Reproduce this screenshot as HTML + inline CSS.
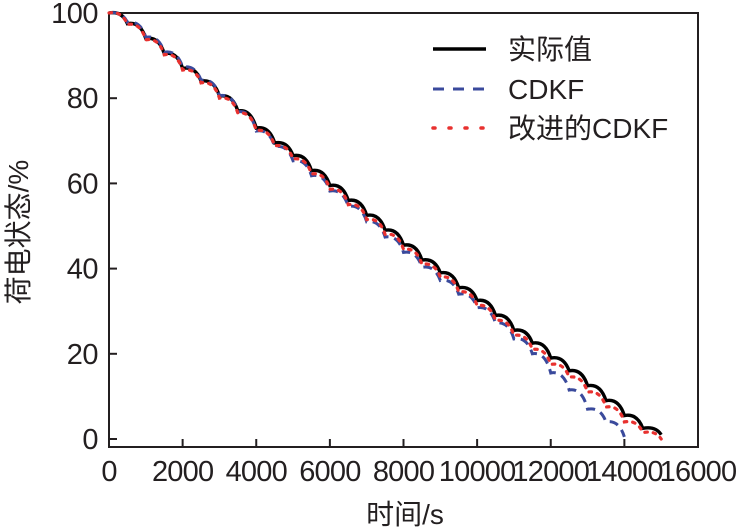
<!DOCTYPE html>
<html><head><meta charset="utf-8"><style>
html,body{margin:0;padding:0;background:#fff;}
svg{display:block;}
text{font-family:"Liberation Sans","Noto Sans CJK SC",sans-serif;fill:#231f20;}
</style></head><body>
<svg id="chart" width="736" height="531" viewBox="0 0 736 531"></svg>
<script>
const times = [0,500,1000,1500,2000,2500,3000,3500,4000,4500,5000,5500,6000,6500,7000,7500,8000,8500,9000,9500,10000,10500,11000,11500,12000,12500,13000,13500,14000,14500,15000];
const actualSoc = [100,97.5,94,90.5,87,84,80.5,77,73,69.5,66.5,63,59.5,56,52.5,49,45.5,42,39,35.5,32.5,29,25.5,22.5,19,16,12.5,9,5.5,2.5,1];
const cdkfSoc = [100,97.8,94.3,90.8,87.3,84.2,80.6,76.8,72.3,68.6,65.3,61.8,58.2,54.6,51,47.4,43.8,40.3,37.2,34,30.8,27.2,23.5,20,15.5,11.5,7,4,0.5,null,null];
const improvedSoc = [100,97.3,93.7,90.2,86.6,83.6,80,76.5,72.4,68.8,65.7,62.2,58.6,55,51.5,48,44.5,41,38,34.5,31.3,27.8,24.3,21,17.5,14.5,11,7.5,4,1.5,0];
const xTicks = [0,2000,4000,6000,8000,10000,12000,14000,16000];
const yTicks = [0,20,40,60,80,100];

const svg = document.getElementById('chart');
const NS = 'http://www.w3.org/2000/svg';
const X0=109,X1=698,Y0=439,Y100=13,YB=447,YT=13;
const xs = t => X0 + (t/16000)*(X1-X0);
const ys = v => Y0 - (v/100)*(Y0-Y100);
function mk(tag, attrs){const e=document.createElementNS(NS,tag);for(const k in attrs)e.setAttribute(k,attrs[k]);svg.appendChild(e);return e;}

const frame = mk('rect',{x:X0,y:YT,width:X1-X0,height:YB-YT,fill:'none',stroke:'#231f20','stroke-width':2});



xTicks.forEach(t=>{
  const l=mk('line',{x1:xs(t),x2:xs(t),y1:YB,y2:YB-8,stroke:'#231f20','stroke-width':2});
  
  
  const tx=mk('text',{x:xs(t),y:481,'font-size':29,'text-anchor':'middle','letter-spacing':'-0.8'});
  tx.textContent=t;
  
  
});
yTicks.forEach(v=>{
  const l=mk('line',{x1:X0,x2:X0+8,y1:ys(v),y2:ys(v),stroke:'#231f20','stroke-width':2});
  
  
  const tx=mk('text',{x:98,y:ys(v)+10,'font-size':29,'text-anchor':'end','letter-spacing':'-0.5'});
  tx.textContent=v;
  
  
});

function scallopPath(vals){
  let d='';
  for(let i=0;i<vals.length;i++){
    if(vals[i]===null)break;
    const x=xs(times[i]),y=ys(vals[i]);
    if(i===0){d+=`M${x},${y}`;continue;}
    const px=xs(times[i-1]),py=ys(vals[i-1]);
    const cx=px+(x-px)*0.7, cy=py-2.5;
    d+=` Q${cx},${cy} ${x},${y}`;
  }
  return d;
}
const a=mk('path',{d:scallopPath(actualSoc),fill:'none',stroke:'#000','stroke-width':3.4});


const c=mk('path',{d:scallopPath(cdkfSoc),fill:'none',stroke:'#3a4a9c','stroke-width':3,'stroke-dasharray':'9,6'});


const m=mk('path',{d:scallopPath(improvedSoc),fill:'none',stroke:'#e8312f','stroke-width':3.2,'stroke-dasharray':'2.5,6','stroke-linecap':'round'});



const legend=[['实际值','#000','none',3.4,'butt'],['CDKF','#3a4a9c','11,9',3,'butt'],['改进的CDKF','#e8312f','2,14',3.5,'round']];
const ly=[49,89,128];
legend.forEach((L,i)=>{
  const l=mk('line',{x1:433,x2:486,y1:ly[i],y2:ly[i],stroke:L[1],'stroke-width':L[3],'stroke-dasharray':L[2],'stroke-linecap':L[4]});
  
  
  const t=mk('text',{x:508,y:ly[i]+10,'font-size':28});
  t.textContent=L[0];
  
  
});

const xl=mk('text',{x:405,y:524,'font-size':28,'text-anchor':'middle'});
xl.textContent='时间/s';


const yl=mk('text',{x:0,y:0,'font-size':28,'text-anchor':'middle',transform:'translate(28,232) rotate(-90)'});
yl.textContent='荷电状态/%';


</script>
</body></html>
